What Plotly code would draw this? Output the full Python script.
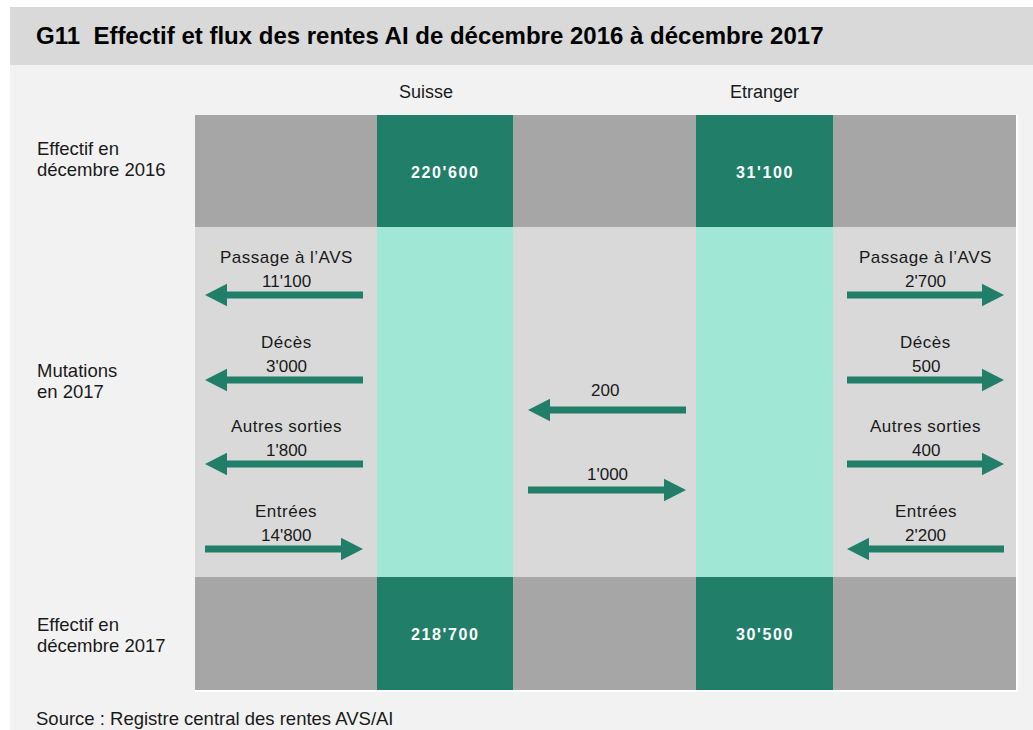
import plotly.graph_objects as go

# ---------------- data ----------------
title = "G11  Effectif et flux des rentes AI de décembre 2016 à décembre 2017"
source = "Source : Registre central des rentes AVS/AI"
columns = ["Suisse", "Etranger"]
row_labels = [["Effectif en", "décembre 2016"], ["Mutations", "en 2017"], ["Effectif en", "décembre 2017"]]
stock_2016 = ["220'600", "31'100"]
stock_2017 = ["218'700", "30'500"]
flow_categories = ["Passage à l\u2019AVS", "Décès", "Autres sorties", "Entrées"]
flow_direction = ["out", "out", "out", "in"]
flows_suisse = ["11'100", "3'000", "1'800", "14'800"]
flows_etranger = ["2'700", "500", "400", "2'200"]
transfer_to_suisse = "200"      # Etranger -> Suisse
transfer_to_etranger = "1'000"  # Suisse -> Etranger

# ---------------- style / layout ----------------
W, H = 1033, 730
C_DARK_GREEN = "#217f69"
C_LIGHT_GREEN = "#a1e7d5"
C_DARK_GRAY = "#a6a6a6"
C_LIGHT_GRAY = "#d9d9d9"
C_BG = "#f2f2f2"
C_TEXT = "#1a1a1a"
FONT = "Arial, Liberation Sans, sans-serif"

X0, X1 = 195, 1016            # diagram extent
Y_ROWS = [115, 227, 577, 690]  # row boundaries
COLS = [(377, 513), (696, 833)]
LEFT_ARROW = (205, 363)
MID_ARROW = (528, 686)
RIGHT_ARROW = (847, 1004)
FLOW_Y = [295, 380, 464, 549]
ROW_LABEL_Y = [148, 370, 624]
LINE_GAP = 21
SHAFT = 3.4
HEAD_H = 11.3
HEAD_L = 22

shapes = []
annotations = []


def rect(x0, y0, x1, y1, color):
    shapes.append(dict(type="rect", xref="x", yref="y", x0=x0, x1=x1, y0=y0, y1=y1,
                       fillcolor=color, line=dict(width=0), layer="below"))


def arrow(xa, xb, y, pointing):
    """xa < xb; pointing 'left' or 'right'."""
    if pointing == "left":
        tip, tail, s = xa, xb, 1
    else:
        tip, tail, s = xb, xa, -1
    hb = tip + s * HEAD_L
    p = (f"M {tail},{y - SHAFT} L {hb},{y - SHAFT} L {hb},{y - HEAD_H} L {tip},{y} "
         f"L {hb},{y + HEAD_H} L {hb},{y + SHAFT} L {tail},{y + SHAFT} Z")
    shapes.append(dict(type="path", xref="x", yref="y", path=p, fillcolor=C_DARK_GREEN,
                       line=dict(width=0), layer="above"))


def text(x, y, s, size=17, color=C_TEXT, xanchor="center", bold=False, spacing=None):
    if spacing:
        s = f'<span style="letter-spacing:{spacing}px">{s}</span>'
    if bold:
        s = f"<b>{s}</b>"
    annotations.append(dict(x=x, y=y, xref="x", yref="y", text=s, showarrow=False,
                            xanchor=xanchor, yanchor="middle", align="left",
                            font=dict(family=FONT, size=size, color=color)))


# backgrounds
rect(10, 7, W, 65, C_LIGHT_GRAY)
rect(10, 65, W, H, C_BG)
rect(X0, Y_ROWS[0], X1 + 2, Y_ROWS[3] + 2, "white")
rect(X0, Y_ROWS[0], X1, Y_ROWS[1], C_DARK_GRAY)
rect(X0, Y_ROWS[1], X1, Y_ROWS[2], C_LIGHT_GRAY)
rect(X0, Y_ROWS[2], X1, Y_ROWS[3], C_DARK_GRAY)
for (cx0, cx1) in COLS:
    rect(cx0, Y_ROWS[0], cx1, Y_ROWS[1], C_DARK_GREEN)
    rect(cx0, Y_ROWS[1], cx1, Y_ROWS[2], C_LIGHT_GREEN)
    rect(cx0, Y_ROWS[2], cx1, Y_ROWS[3], C_DARK_GREEN)

# title and source
text(34, 35, title, size=24, bold=True, xanchor="left", color="#000000")
text(34, 718, source, size=18.5, xanchor="left")

# column headers
text(426, 92, columns[0], size=18)
text((COLS[1][0] + COLS[1][1]) / 2, 92, columns[1], size=18)

# row labels (one annotation per line for exact line spacing)
for lines, y in zip(row_labels, ROW_LABEL_Y):
    for j, line in enumerate(lines):
        text(35, y + j * LINE_GAP, line, size=18.5, xanchor="left")

# stocks
for i, (cx0, cx1) in enumerate(COLS):
    cx = (cx0 + cx1) / 2
    text(cx, (Y_ROWS[0] + Y_ROWS[1]) / 2 + 1, stock_2016[i], size=16, color="white", bold=True, spacing=1.6)
    text(cx, (Y_ROWS[2] + Y_ROWS[3]) / 2 + 1, stock_2017[i], size=16, color="white", bold=True, spacing=1.6)

# flows
for k, cat in enumerate(flow_categories):
    y = FLOW_Y[k]
    out = flow_direction[k] == "out"
    # Suisse side (left)
    arrow(LEFT_ARROW[0], LEFT_ARROW[1], y, "left" if out else "right")
    lx = (LEFT_ARROW[0] + LEFT_ARROW[1]) / 2 + 2
    text(lx, y - 38, cat, size=17, spacing=0.5)
    text(lx, y - 14, flows_suisse[k], size=17)
    # Etranger side (right)
    arrow(RIGHT_ARROW[0], RIGHT_ARROW[1], y, "right" if out else "left")
    rx = (RIGHT_ARROW[0] + RIGHT_ARROW[1]) / 2
    text(rx, y - 38, cat, size=17, spacing=0.5)
    text(rx, y - 14, flows_etranger[k], size=17)

# transfers between Suisse and Etranger
mx = (MID_ARROW[0] + MID_ARROW[1]) / 2
arrow(MID_ARROW[0], MID_ARROW[1], 410, "left")
text(mx - 2, 390, transfer_to_suisse, size=17)
arrow(MID_ARROW[0], MID_ARROW[1], 490, "right")
text(mx, 474, transfer_to_etranger, size=17)

fig = go.Figure()
fig.update_layout(
    width=W, height=H, margin=dict(l=0, r=0, t=0, b=0),
    paper_bgcolor="white", plot_bgcolor="white",
    xaxis=dict(range=[0, W], visible=False, fixedrange=True),
    yaxis=dict(range=[H, 0], visible=False, fixedrange=True),
    shapes=shapes, annotations=annotations, showlegend=False,
)
fig.write_html("out.html", config={"displayModeBar": False},
               post_script="document.body.style.margin='0';document.body.style.overflow='hidden';")
